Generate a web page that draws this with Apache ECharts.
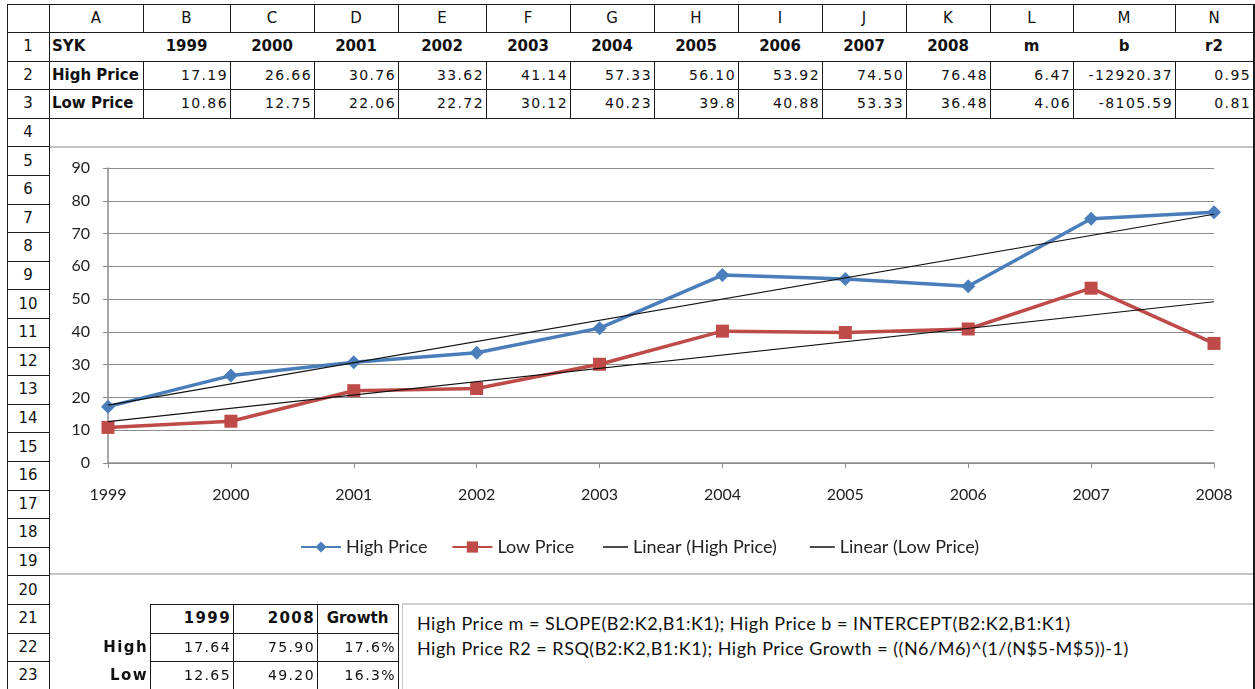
<!DOCTYPE html>
<html>
<head>
    <meta charset="utf-8" />
    <script src="https://cdn.jsdelivr.net/npm/echarts@6/dist/echarts.min.js"></script>
    <style>
        body { margin: 0; background: #fff; width: 1255px; height: 689px; overflow: hidden; position: relative; }
        .ln { position: absolute; background: #1a1a1a; }
        .c { position: absolute; font-family: "DejaVu Sans", sans-serif; font-size: 15px; color: #111; white-space: nowrap; box-sizing: border-box; display: flex; align-items: center; }
        .num { font-size: 14px; letter-spacing: 1.4px; justify-content: flex-end; padding-right: 2px; }
        .b { font-weight: bold; font-size: 15px; }
        .ctr { justify-content: center; }
        .lft { justify-content: flex-start; padding-left: 3px; }
        #main { position: absolute; left: 49px; top: 147px; width: 1204px; height: 426px; background: #fff; }
        #note { position: absolute; left: 402px; top: 603px; width: 851px; height: 90px; border-left: 1px solid #c8c8c8; border-top: 2px solid #d0d0d0; box-sizing: border-box;
                font-family: Lato, sans-serif; font-size: 18px; letter-spacing: 0.5px; color: #111; padding: 6px 0 0 14px; line-height: 25px; white-space: nowrap; }
    </style>
</head>
<body>
    <div id="main"></div>
    <div id="note"></div>

    <script>
        // sheet data
        var colLetters = ['A','B','C','D','E','F','G','H','I','J','K','L','M','N'];
        var years = [1999, 2000, 2001, 2002, 2003, 2004, 2005, 2006, 2007, 2008];
        var highPrice = [17.19, 26.66, 30.76, 33.62, 41.14, 57.33, 56.10, 53.92, 74.50, 76.48];
        var lowPrice = [10.86, 12.75, 22.06, 22.72, 30.12, 40.23, 39.8, 40.88, 53.33, 36.48];
        var statNames = ['m', 'b', 'r2'];
        var highStats = ['6.47', '-12920.37', '0.95'];
        var lowStats = ['4.06', '-8105.59', '0.81'];
        // trend line ends (rows 21-23)
        var trendYears = [1999, 2008];
        var trendHigh = [17.64, 75.90];
        var trendLow = [12.65, 49.20];
        var growth = ['17.6%', '16.3%'];
        var noteLines = [
            'High Price m = SLOPE(B2:K2,B1:K1); High Price b = INTERCEPT(B2:K2,B1:K1)',
            'High Price R2 = RSQ(B2:K2,B1:K1); High Price Growth = ((N6/M6)^(1/(N$5-M$5))-1)'
        ];

        var xs = [7, 49, 143, 230, 314, 398, 486, 570, 654, 738, 822, 906, 990, 1073, 1175, 1253];
        function rt(r) { return r === 0 ? 4 : 32 + (r - 1) * 28.6; }

        function line(x, y, w, h, color) {
            var d = document.createElement('div');
            d.className = 'ln';
            d.style.left = x + 'px'; d.style.top = y + 'px';
            d.style.width = w + 'px'; d.style.height = h + 'px';
            if (color) d.style.background = color;
            document.body.appendChild(d);
        }
        function cell(x1, x2, r, text, cls) {
            var d = document.createElement('div');
            d.className = 'c ' + cls;
            d.style.left = x1 + 'px'; d.style.width = (x2 - x1) + 'px';
            d.style.top = rt(r) + 'px'; d.style.height = (rt(r + 1) - rt(r)) + 'px';
            d.textContent = text;
            document.body.appendChild(d);
        }

        // column letters + row numbers
        for (var i = 0; i < colLetters.length; i++) cell(xs[i + 1], xs[i + 2], 0, colLetters[i], 'ctr');
        for (var r = 1; r <= 23; r++) cell(xs[0], xs[1], r, String(r), 'ctr');

        // rows 1-3
        cell(xs[1], xs[2], 1, 'SYK', 'b lft');
        cell(xs[1], xs[2], 2, 'High Price', 'b lft');
        cell(xs[1], xs[2], 3, 'Low Price', 'b lft');
        for (var i = 0; i < years.length; i++) {
            cell(xs[i + 2], xs[i + 3], 1, String(years[i]), 'b ctr');
            cell(xs[i + 2], xs[i + 3], 2, highPrice[i].toFixed(2), 'num');
            cell(xs[i + 2], xs[i + 3], 3, String(lowPrice[i]), 'num');
        }
        for (var i = 0; i < statNames.length; i++) {
            cell(xs[i + 12], xs[i + 13], 1, statNames[i], 'b ctr');
            cell(xs[i + 12], xs[i + 13], 2, highStats[i], 'num');
            cell(xs[i + 12], xs[i + 13], 3, lowStats[i], 'num');
        }

        // grid lines
        line(xs[0], rt(0), xs[15] - xs[0], 1);
        line(xs[0], rt(1), xs[15] - xs[0], 1);
        for (var i = 0; i < xs.length; i++) line(xs[i], rt(0), 1, rt(1) - rt(0));
        line(xs[0], rt(0), 1, 689);
        line(xs[1], rt(0), 1, 689);
        line(xs[15], rt(0), 2, 689);
        for (var r = 2; r <= 23; r++) line(xs[0], rt(r), xs[1] - xs[0], 1);
        for (var r = 2; r <= 4; r++) line(xs[1], rt(r), xs[15] - xs[1], 1);
        for (var i = 2; i < 15; i++) line(xs[i], rt(2), 1, rt(4) - rt(2));

        // small table rows 21-23
        var bx = [150, 233, 317, 398];
        cell(bx[0], bx[1], 21, String(trendYears[0]), 'b num');
        cell(bx[1], bx[2], 21, String(trendYears[1]), 'b num');
        cell(bx[2], bx[3], 21, 'Growth', 'b ctr');
        cell(xs[1], bx[0], 22, 'High', 'b num');
        cell(xs[1], bx[0], 23, 'Low', 'b num');
        cell(bx[0], bx[1], 22, trendHigh[0].toFixed(2), 'num');
        cell(bx[1], bx[2], 22, trendHigh[1].toFixed(2), 'num');
        cell(bx[2], bx[3], 22, growth[0], 'num');
        cell(bx[0], bx[1], 23, trendLow[0].toFixed(2), 'num');
        cell(bx[1], bx[2], 23, trendLow[1].toFixed(2), 'num');
        cell(bx[2], bx[3], 23, growth[1], 'num');
        for (var r = 21; r <= 23; r++) line(bx[0], rt(r), bx[3] - bx[0], 1);
        for (var i = 0; i < bx.length; i++) line(bx[i], rt(21), 1, 689 - rt(21));

        // chart frame
        line(xs[1] + 1, 146, xs[15] - xs[1] - 1, 2, '#c4c4c4');
        line(xs[1] + 1, 573, xs[15] - xs[1] - 1, 2, '#c4c4c4');

        document.getElementById('note').innerHTML = noteLines.join('<br>');

        var myChart = echarts.init(document.getElementById('main'));
        var blue = '#4A7EBB', red = '#BE4B48', grey = '#8C8C8C';
        function pairs(xv, yv) { return xv.map(function (x, k) { return [x, yv[k]]; }); }

        var option = {
            animation: false,
            textStyle: { fontFamily: 'Lato', color: '#222' },
            grid: { left: 59, right: 39, top: 21, bottom: 110 },
            legend: [
                {
                    left: 246, top: 386, itemWidth: 40, itemHeight: 14, itemGap: 24,
                    textStyle: { fontSize: 18, color: '#222' },
                    data: ['High Price', 'Low Price']
                },
                {
                    left: 549, top: 386, itemWidth: 25, itemHeight: 1.5, itemGap: 33,
                    textStyle: { fontSize: 18, color: '#222' },
                    data: [
                        { name: 'Linear (High Price)', icon: 'rect' },
                        { name: 'Linear (Low Price)', icon: 'rect' }
                    ]
                }
            ],
            xAxis: {
                type: 'value', min: 1999, max: 2008, interval: 1,
                axisLine: { lineStyle: { color: grey, width: 1.5 } },
                axisTick: { show: true, length: 5, lineStyle: { color: grey } },
                splitLine: { show: false },
                axisLabel: { fontSize: 16, color: '#222', margin: 24, showMinLabel: true, showMaxLabel: true,
                    formatter: function (v) { return String(v); } }
            },
            yAxis: {
                type: 'value', min: 0, max: 90, interval: 10,
                axisLine: { show: true, lineStyle: { color: grey, width: 1.5 } },
                axisTick: { show: true, length: 5, lineStyle: { color: grey } },
                splitLine: { show: true, lineStyle: { color: grey, width: 1.2 } },
                axisLabel: { fontSize: 16, color: '#222', margin: 18 }
            },
            series: [
                {
                    name: 'High Price', type: 'line', data: pairs(years, highPrice),
                    symbol: 'diamond', symbolSize: 14, z: 3,
                    lineStyle: { color: blue, width: 3.5 }, itemStyle: { color: blue }
                },
                {
                    name: 'Low Price', type: 'line', data: pairs(years, lowPrice),
                    symbol: 'rect', symbolSize: 13, z: 2,
                    lineStyle: { color: red, width: 3.5 }, itemStyle: { color: red }
                },
                {
                    name: 'Linear (High Price)', type: 'line', data: pairs(trendYears, trendHigh),
                    symbol: 'none', z: 4, lineStyle: { color: '#111', width: 1.2 }, itemStyle: { color: '#111' }
                },
                {
                    name: 'Linear (Low Price)', type: 'line', data: pairs(trendYears, trendLow),
                    symbol: 'none', z: 4, lineStyle: { color: '#111', width: 1.2 }, itemStyle: { color: '#111' }
                }
            ]
        };
        myChart.setOption(option);
    </script>
</body>
</html>
